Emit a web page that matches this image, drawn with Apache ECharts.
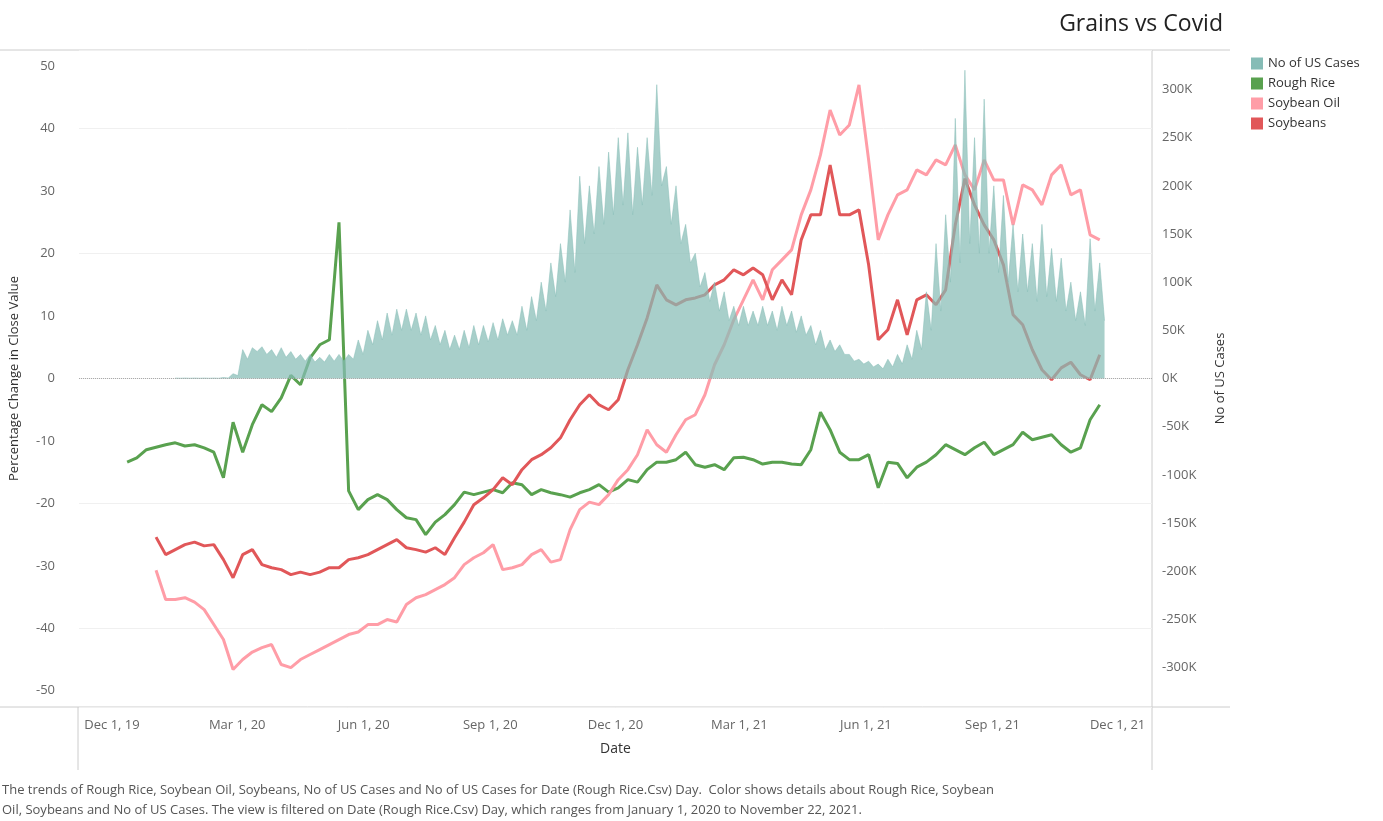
<!DOCTYPE html>
<html lang="en">
  <head>
    <meta charset="UTF-8" />
    <title>Grains vs Covid</title>
    <script src="https://cdn.jsdelivr.net/npm/echarts@6/dist/echarts.min.js"></script>
    <style>
      body { margin: 0; background: #fff; }
    </style>
  </head>
  <body>
    <div id="main" style="width: 1383px; height: 821px"></div>
    <script type="text/javascript">
      // weekly samples starting Dec 12, 2019
      let startDate = "2019-12-12"
      let roughRice = [-13.4, -12.7, -11.4, -11, -10.6, -10.3, -10.8, -10.6, -11.1, -11.8, -15.9, -7, -11.8, -7.4, -4.2, -5.3, -3.1, 0.5, -1, 3.3,
        5.4, 6.2, 25, -18, -21, -19.4, -18.6, -19.4, -21, -22.3, -22.6, -25, -23, -21.8, -20.2, -18.2, -18.6, -18.2, -17.8, -18.3,
        -16.7, -17, -18.6, -17.8, -18.3, -18.6, -19, -18.3, -17.8, -17, -18.2, -17.5, -16.2, -16.6, -14.6, -13.4, -13.4, -13, -11.8, -13.8,
        -14.2, -13.8, -14.6, -12.7, -12.6, -13, -13.7, -13.4, -13.4, -13.7, -13.8, -11.4, -5.4, -8.2, -11.8, -13, -13, -12.2, -17.5, -13.4,
        -13.6, -15.9, -14.2, -13.4, -12.2, -10.6, -11.4, -12.2, -11.1, -10.2, -12.2, -11.4, -10.6, -8.6, -9.8, -9.4, -9, -10.6, -11.8, -11.1,
        -6.6, -4.2]
      let soybeanOil = [null, null, null, -30.7, -35.4, -35.4, -35.1, -35.8, -37, -39.4, -41.8, -46.6, -45, -43.8, -43.1, -42.6, -45.8, -46.3, -45, -44.2,
        -43.4, -42.6, -41.8, -41, -40.6, -39.4, -39.4, -38.6, -39, -36.2, -35.1, -34.6, -33.8, -33, -31.9, -29.8, -28.7, -27.9, -26.6, -30.6,
        -30.3, -29.8, -28.2, -27.4, -29.4, -29, -24.2, -21, -19.8, -20.2, -18.6, -16.2, -14.6, -12.2, -8.2, -10.6, -11.8, -9, -6.6, -5.8,
        -2.6, 2.2, 5.4, 9.4, 12.6, 15.8, 12.6, 17.4, 19, 20.6, 26.2, 30.2, 35.8, 43, 39, 40.6, 47, 35, 22.2, 26.2,
        29.4, 30.2, 33.4, 32.6, 35, 34.2, 37.4, 32.6, 30.2, 35, 31.8, 31.8, 24.6, 31, 30.2, 27.8, 32.6, 34.2, 29.4, 30.2,
        23, 22.2]
      let soybeans = [null, null, null, -25.4, -28.2, -27.4, -26.6, -26.2, -26.8, -26.6, -29, -31.9, -28.2, -27.4, -29.8, -30.3, -30.6, -31.4, -31, -31.4,
        -31, -30.3, -30.3, -29, -28.7, -28.2, -27.4, -26.6, -25.8, -27.1, -27.4, -27.8, -27.1, -28.2, -25.5, -23, -20.2, -19.1, -17.8, -15.9,
        -17, -14.6, -13, -12.2, -11.1, -9.5, -6.6, -4.2, -2.6, -4.2, -5, -3.4, 1.4, 5.4, 9.7, 15, 12.6, 11.8, 12.6, 12.9,
        13.4, 15, 15.8, 17.4, 16.6, 17.7, 16.6, 12.6, 15.8, 13.4, 22.2, 26.2, 26.2, 34.2, 26.2, 26.2, 27, 18.2, 6.2, 7.8,
        12.6, 7, 12.6, 13.4, 11.8, 14.2, 24.6, 32, 27.8, 24.6, 22.2, 18.2, 10.2, 8.6, 4.6, 1.4, -0.2, 1.7, 2.6, 0.6,
        -0.2, 3.8]
      // US cases in thousands: weekly high and mid-week low
      let casesHigh = [null, null, null, null, null, 0.5, 0.5, 0.5, 0.5, 0.5, 1, 5, 30, 32, 33, 30, 32, 28, 25, 25,
        22, 25, 25, 25, 40, 50, 60, 68, 72, 72, 68, 65, 55, 50, 45, 50, 55, 55, 58, 62,
        60, 75, 85, 100, 120, 140, 175, 210, 200, 220, 235, 250, 255, 240, 250, 305, 220, 200, 160, 130,
        110, 100, 90, 75, 75, 70, 75, 70, 75, 70, 65, 55, 50, 40, 35, 25, 20, 18, 15, 20,
        25, 35, 50, 90, 140, 170, 270, 320, 250, 290, 200, 190, 160, 150, 140, 160, 135, 125, 100, 90,
        145, 120]
      let casesLow = [null, null, null, null, null, 0.3, 0.3, 0.3, 0.3, 0.3, 0.5, 3, 20, 28, 25, 22, 22, 20, 18, 17,
        17, 18, 18, 20, 25, 35, 40, 45, 50, 50, 45, 40, 35, 30, 30, 32, 35, 38, 40, 45,
        45, 50, 60, 70, 85, 100, 110, 140, 150, 160, 170, 180, 170, 180, 190, 200, 160, 140, 120, 95,
        80, 70, 60, 55, 55, 55, 55, 50, 55, 48, 45, 35, 30, 28, 25, 18, 15, 12, 10, 12,
        15, 20, 30, 50, 70, 100, 120, 140, 130, 130, 110, 100, 90, 90, 80, 85, 80, 70, 60, 55,
        70, 60]
      let xTicks = ["2019-12-01", "2020-03-01", "2020-06-01", "2020-09-01", "2020-12-01", "2021-03-01", "2021-06-01", "2021-09-01", "2021-12-01"]
      let leftTicks = [-50, -40, -30, -20, -10, 0, 10, 20, 30, 40, 50]
      let rightTicks = [-300, -250, -200, -150, -100, -50, 0, 50, 100, 150, 200, 250, 300]

      const DAY = 864e5
      const t0 = Date.parse(startDate)
      const weekly = (arr) => arr.map((v, k) => [t0 + k * 7 * DAY, v])
      let cases = []
      casesHigh.forEach((v, k) => {
        cases.push([t0 + k * 7 * DAY, v == null ? null : v * 1000])
        cases.push([t0 + (k * 7 + 3.5) * DAY, casesLow[k] == null ? null : casesLow[k] * 1000])
      })
      const months = ["Jan", "Feb", "Mar", "Apr", "May", "Jun", "Jul", "Aug", "Sep", "Oct", "Nov", "Dec"]

      let options = {
        animation: false,
        textStyle: { fontFamily: "Open Sans" },
        title: {
          text: "Grains vs Covid", right: 155, top: 8,
          textStyle: { fontSize: 23, fontWeight: "normal", color: "#222" },
        },
        legend: {
          orient: "vertical", left: 1246, top: 52, itemGap: 7, icon: "rect",
          itemWidth: 12, itemHeight: 12,
          textStyle: { fontSize: 13, color: "#333" },
          data: ["No of US Cases", "Rough Rice", "Soybean Oil", "Soybeans"],
        },
        grid: { left: 78, right: 231, top: 50, bottom: 114 },
        xAxis: {
          type: "value",
          min: Date.parse("2019-11-07"), max: Date.parse("2021-12-26"),
          name: "Date", nameLocation: "middle", nameGap: 35,
          nameTextStyle: { fontSize: 14, color: "#333" },
          axisLine: { show: false }, splitLine: { show: false },
          axisTick: { show: false },
          axisLabel: {
            customValues: xTicks.map((d) => Date.parse(d)),
            color: "#666", fontSize: 13, margin: 12,
            formatter: (v) => {
              let d = new Date(v)
              return months[d.getUTCMonth()] + " " + d.getUTCDate() + ", " + String(d.getUTCFullYear()).slice(2)
            },
          },
        },
        yAxis: [
          {
            type: "value", min: -52.6, max: 52.6,
            name: "Percentage Change in Close Value", nameLocation: "middle", nameGap: 58,
            nameTextStyle: { fontSize: 13, color: "#333" },
            axisLine: { show: false }, axisTick: { show: false },
            axisLabel: { customValues: leftTicks, color: "#666", fontSize: 13, margin: 24 },
            splitLine: { show: true, lineStyle: { color: "#f0f0f0" } },
          },
          {
            type: "value", min: -341000, max: 341000,
            name: "No of US Cases", nameLocation: "middle", nameGap: 62, nameRotate: 90,
            nameTextStyle: { fontSize: 13, color: "#333" },
            axisLine: { show: false }, axisTick: { show: false },
            axisLabel: {
              customValues: rightTicks.map((v) => v * 1000), color: "#666", fontSize: 13, margin: 10,
              formatter: (v) => v / 1000 + "K",
            },
            splitLine: { show: false },
          },
        ],
        series: [
          {
            name: "Rough Rice", type: "line", data: weekly(roughRice), showSymbol: false,
            itemStyle: { color: "#59a14f" }, lineStyle: { width: 3, color: "#59a14f" }, z: 2,
          },
          {
            name: "Soybean Oil", type: "line", data: weekly(soybeanOil), showSymbol: false,
            itemStyle: { color: "#ff9da7" }, lineStyle: { width: 3, color: "#ff9da7" }, z: 2,
          },
          {
            name: "Soybeans", type: "line", data: weekly(soybeans), showSymbol: false,
            itemStyle: { color: "#e15759" }, lineStyle: { width: 3, color: "#e15759" }, z: 2,
            markLine: {
              silent: true, symbol: "none", label: { show: false },
              lineStyle: { color: "#aaa", type: "dotted", width: 1 },
              data: [{ yAxis: 0 }],
            },
          },
          {
            name: "No of US Cases", type: "line", yAxisIndex: 1, data: cases, showSymbol: false,
            itemStyle: { color: "#86bcb6" },
            lineStyle: { width: 0.5, color: "#86bcb6" },
            areaStyle: { color: "#86bcb6", opacity: 0.72 }, z: 3,
          },
        ],
        graphic: [
          { type: "line", shape: { x1: 0, y1: 50, x2: 1230, y2: 50 }, style: { stroke: "#ccc" } },
          { type: "line", shape: { x1: 0, y1: 707, x2: 1230, y2: 707 }, style: { stroke: "#ccc" } },
          { type: "line", shape: { x1: 78, y1: 707, x2: 78, y2: 770 }, style: { stroke: "#ccc" } },
          { type: "line", shape: { x1: 1152, y1: 50, x2: 1152, y2: 770 }, style: { stroke: "#ccc" } },
          {
            type: "text", left: 2, top: 780,
            style: {
              text: "The trends of Rough Rice, Soybean Oil, Soybeans, No of US Cases and No of US Cases for Date (Rough Rice.Csv) Day.  Color shows details about Rough Rice, Soybean\nOil, Soybeans and No of US Cases. The view is filtered on Date (Rough Rice.Csv) Day, which ranges from January 1, 2020 to November 22, 2021.",
              fill: "#555", font: "13px 'Open Sans'", lineHeight: 20,
            },
          },
        ],
      }

      let myChart = echarts.init(document.getElementById("main"))
      myChart.setOption(options)
    </script>
  </body>
</html>
